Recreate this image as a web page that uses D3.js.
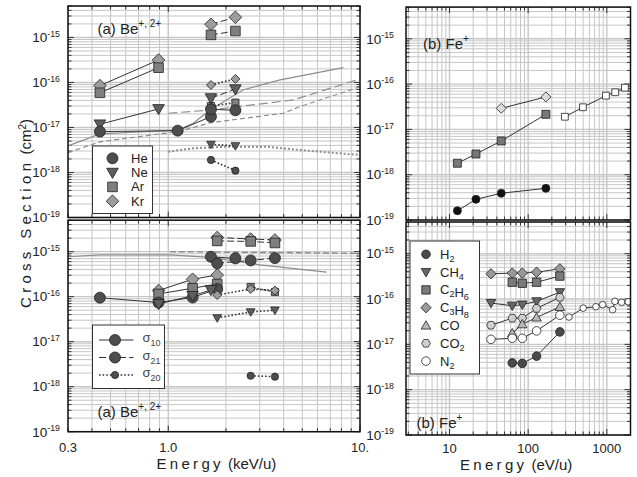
<!DOCTYPE html>
<html>
<head>
<meta charset="utf-8">
<script src="https://cdn.jsdelivr.net/npm/d3@7"></script>
<style>
  body { margin: 0; background: #fff; }
  svg { font-family: "Liberation Sans", Arial, Helvetica, sans-serif; }
</style>
</head>
<body>
<svg id="chart" width="637" height="477"></svg>
<script>
// ---------- data: [energy, cross section (cm^2)] ----------
// (a) Be+,2+ upper panel, energy in keV/u
const aHeSolid  = [[0.44, 8.1e-18], [1.12, 8.5e-18], [1.67, 1.74e-17]];
const aHeSolid2 = [[1.67, 2.54e-17], [2.24, 2.41e-17]];
const aNeSolid  = [[0.44, 1.18e-17], [0.89, 2.58e-17]];
const aArSolid  = [[0.44, 5.9e-17], [0.89, 2.13e-16]];
const aKrSolid  = [[0.44, 8.5e-17], [0.89, 3.16e-16]];
const aNeDash   = [[1.67, 4.5e-17], [2.24, 7.1e-17]];
const aArDash   = [[1.67, 1.14e-15], [2.24, 1.39e-15]];
const aKrDash   = [[1.67, 1.96e-15], [2.24, 2.81e-15]];
const aHeDot    = [[1.67, 1.9e-18], [2.24, 1.1e-18]];
const aNeDot    = [[1.67, 4.2e-18], [2.24, 3.9e-18]];
const aArDot    = [[1.67, 3.0e-17], [2.24, 3.56e-17]];
const aKrDot    = [[1.67, 8.8e-17], [2.24, 1.2e-16]];
// other works (curves, no markers), upper panel
const aRefSolid = [[0.3, 3.9e-18], [0.44, 7.2e-18], [1.12, 8.8e-18], [1.35, 1.24e-17], [1.65, 2.45e-17], [2.45, 6.8e-17], [3.83, 1.14e-16], [8.2, 2.13e-16]];
const aRefLong  = [[1.0, 2.07e-17], [1.67, 2.45e-17], [4.5, 4.1e-17], [10, 1.2e-16]];
const aRefShort = [[0.3, 2.75e-18], [0.44, 4.8e-18], [1.12, 8.1e-18], [1.67, 1.28e-17], [3.98, 2.07e-17], [4.84, 2.9e-17], [10, 8.0e-17]];
const aRefDot   = [[1.0, 2.9e-18], [1.35, 3.45e-18], [2.02, 3.74e-18], [3.26, 3.74e-18], [4.84, 3.16e-18], [10, 2.45e-18]];

// (a) lower panel: sigma10 (solid), sigma21 (dashed), sigma20 (dotted)
const bHe10  = [[0.44, 9.5e-17], [0.89, 7.4e-17], [1.34, 9.6e-17], [1.80, 1.48e-16]];
const bNe10  = [[0.89, 6.9e-17], [1.34, 1.05e-16], [1.67, 1.41e-16]];
const bAr10  = [[0.89, 1.15e-16], [1.34, 1.54e-16], [1.80, 1.91e-16]];
const bKr10  = [[0.89, 1.37e-16], [1.34, 2.44e-16], [1.80, 3.03e-16]];
const bHe10b = [[1.67, 7.7e-16], [2.24, 7.1e-16]];
const bHe21  = [[1.80, 5.5e-16], [2.69, 6.4e-16], [3.6, 7.2e-16]];
const bAr21  = [[1.80, 1.73e-15], [2.69, 1.69e-15], [3.6, 1.56e-15]];
const bKr21  = [[1.80, 2.07e-15], [2.69, 1.91e-15], [3.6, 1.82e-15]];
const bKr20  = [[1.80, 1.09e-16], [2.69, 1.48e-16], [3.6, 1.37e-16]];
const bAr20  = [[2.69, 1.64e-16], [3.6, 1.27e-16]];
const bNe20  = [[1.80, 3.37e-17], [2.69, 4.57e-17], [3.6, 5.0e-17]];
const bHe20  = [[2.69, 1.75e-18], [3.6, 1.67e-18]];
const bRefSolid = [[0.3, 7.7e-16], [0.44, 8.45e-16], [1.02, 8.45e-16], [1.65, 7.5e-16], [3.0, 5.1e-16], [6.7, 3.5e-16]];
const bRefDash  = [[1.02, 1.0e-15], [10, 9.2e-16]];

// (b) Fe+ upper panel, energy in eV/u
const cCircle  = [[12.6, 1.6e-19], [21.7, 2.86e-19], [45.5, 3.9e-19], [168, 5.0e-19]];
const cSquare  = [[12.6, 1.79e-18], [21.7, 2.86e-18], [45.5, 5.55e-18], [168, 2.15e-17]];
const cDiamond = [[45.5, 2.92e-17], [168, 5.2e-17]];
const cOpenSq  = [[293, 1.9e-17], [497, 3.08e-17], [974, 5.55e-17], [1279, 6.6e-17], [1698, 8.3e-17]];

// (b) Fe+ lower panel, molecular targets
const dH2   = [[62.8, 3.9e-18], [84.2, 3.8e-18], [128, 5.5e-18], [253, 1.88e-17]];
const dCH4  = [[33.7, 8.15e-17], [62.8, 7.1e-17], [84.2, 7.5e-17], [128, 8.9e-17], [253, 1.41e-16]];
const dC2H6 = [[62.8, 2.35e-16], [84.2, 2.23e-16], [128, 2.35e-16], [253, 3.2e-16]];
const dC3H8 = [[33.7, 3.6e-16], [62.8, 3.73e-16], [84.2, 3.73e-16], [128, 3.9e-16], [253, 4.64e-16]];
const dCO   = [[62.8, 1.76e-17], [84.2, 2.78e-17], [128, 3.92e-17], [253, 6.7e-17]];
const dCO2  = [[33.7, 2.64e-17], [62.8, 3.78e-17], [84.2, 3.78e-17], [128, 6.2e-17], [253, 1.09e-16]];
const dN2   = [[33.7, 1.29e-17], [62.8, 1.36e-17], [84.2, 1.36e-17], [128, 1.98e-17], [253, 4.4e-17]];
const dN2hi = [[330, 4.0e-17], [501, 6.3e-17], [727, 6.75e-17], [885, 7.5e-17], [1186, 5.8e-17], [1268, 8.9e-17], [1542, 8.45e-17], [1871, 8.7e-17]];

const gasNames = ["He", "Ne", "Ar", "Kr"];
const sigmaNames = ["10", "21", "20"];
const molNames = ["H2", "CH4", "C2H6", "C3H8", "CO", "CO2", "N2"];
const yLabelExps = [-15, -16, -17, -18, -19];

// ---------- drawing ----------
const svg = d3.select("#chart");
const HE = "#4d4d4d", NE = "#5e5e5e", AR = "#7f7f7f", KR = "#9c9c9c";
const DASH = "7,3", DOT = "1.6,2";

const shapes = {
  circle: r => `M${r},0A${r},${r} 0 1,1 ${-r},0A${r},${r} 0 1,1 ${r},0Z`,
  square: r => `M${-r},${-r}H${r}V${r}H${-r}Z`,
  diamond: r => `M0,${-r}L${r},0L0,${r}L${-r},0Z`,
  triDown: r => `M${-r},${-0.75 * r}L${r},${-0.75 * r}L0,${r}Z`,
  triUp: r => `M${-r},${0.75 * r}L${r},${0.75 * r}L0,${-r}Z`,
  hexagon: r => d3.range(6).map(i => {
    const a = Math.PI / 3 * i;
    return (i ? "L" : "M") + (r * Math.cos(a)).toFixed(2) + "," + (r * Math.sin(a)).toFixed(2);
  }).join("") + "Z"
};

const panels = [
  { id: "aTop", x: [68, 360], y: [6, 217.5], xd: [0.3, 10], lab: 60 },
  { id: "aBot", x: [68, 360], y: [220.2, 431.7], xd: [0.3, 10], lab: 60 },
  { id: "bTop", x: [406, 630.5], y: [7.1, 220], xd: [2.8, 2000], lab: 394 },
  { id: "bBot", x: [406, 630.5], y: [222, 435], xd: [2.8, 2000], lab: 394 }
];

const isMajor = v => Math.abs(Math.log10(v) - Math.round(Math.log10(v))) < 1e-6;

panels.forEach(p => {
  p.sx = d3.scaleLog().domain(p.xd).range(p.x);
  p.sy = d3.scaleLog().domain([1e-19, 5e-15]).range([p.y[1], p.y[0]]);
  const g = svg.append("g");
  p.g = g;

  // grid
  const xt = p.sx.ticks(), yt = p.sy.ticks();
  g.selectAll(".gx").data(xt).join("line")
    .attr("x1", d => p.sx(d)).attr("x2", d => p.sx(d))
    .attr("y1", p.y[0]).attr("y2", p.y[1])
    .attr("stroke", "#c6c6c6").attr("stroke-width", d => isMajor(d) ? 1.4 : 1);
  g.selectAll(".gy").data(yt).join("line")
    .attr("y1", d => p.sy(d)).attr("y2", d => p.sy(d))
    .attr("x1", p.x[0]).attr("x2", p.x[1])
    .attr("stroke", "#c6c6c6").attr("stroke-width", d => isMajor(d) ? 1.4 : 1);

  // inside ticks on all four sides
  const tk = d3.path();
  xt.forEach(d => {
    const x = p.sx(d), L = isMajor(d) ? 6 : 3.5;
    tk.moveTo(x, p.y[1]); tk.lineTo(x, p.y[1] - L);
    tk.moveTo(x, p.y[0]); tk.lineTo(x, p.y[0] + L);
  });
  yt.forEach(d => {
    const y = p.sy(d), L = isMajor(d) ? 6 : 3.5;
    tk.moveTo(p.x[0], y); tk.lineTo(p.x[0] + L, y);
    tk.moveTo(p.x[1], y); tk.lineTo(p.x[1] - L, y);
  });
  g.append("path").attr("d", tk.toString()).attr("stroke", "#222").attr("stroke-width", 0.9).attr("fill", "none");

  g.append("clipPath").attr("id", "clip-" + p.id)
    .append("rect").attr("x", p.x[0]).attr("y", p.y[0])
    .attr("width", p.x[1] - p.x[0]).attr("height", p.y[1] - p.y[0]);
  p.plot = g.append("g").attr("clip-path", `url(#clip-${p.id})`);

  // y tick labels
  yLabelExps.forEach(e => {
    const t = g.append("text").attr("x", p.lab).attr("y", p.sy(Math.pow(10, e)) + 4.8)
      .attr("text-anchor", "end").attr("font-size", 13.5).attr("fill", "#222");
    t.append("tspan").text("10");
    t.append("tspan").attr("dy", -5.5).attr("font-size", 8.8).text(String(e));
  });
});

const P = Object.fromEntries(panels.map(p => [p.id, p]));

// reference curves (grey, no markers)
const refCurves = [
  { p: "aTop", data: aRefSolid, dash: null, w: 1.2 },
  { p: "aTop", data: aRefLong, dash: "9,4", w: 1.2 },
  { p: "aTop", data: aRefShort, dash: "5,3", w: 1.2 },
  { p: "aTop", data: aRefDot, dash: "2,2", w: 2 },
  { p: "aBot", data: bRefSolid, dash: null, w: 1.2 },
  { p: "aBot", data: bRefDash, dash: "6,3", w: 1.4 }
];
refCurves.forEach(c => {
  const p = P[c.p];
  const line = d3.line().x(d => p.sx(d[0])).y(d => p.sy(d[1]));
  p.plot.append("path").attr("d", line(c.data)).attr("fill", "none")
    .attr("stroke", "#8c8c8c").attr("stroke-width", c.w)
    .attr("stroke-dasharray", c.dash);
});

// measured series
const series = [
  { p: "aTop", data: aKrSolid, dash: null, shape: "diamond", r: 6.3, fill: KR },
  { p: "aTop", data: aArSolid, dash: null, shape: "square", r: 4.8, fill: AR },
  { p: "aTop", data: aNeSolid, dash: null, shape: "triDown", r: 5.8, fill: NE },
  { p: "aTop", data: aHeSolid, dash: null, shape: "circle", r: 5.5, fill: HE },
  { p: "aTop", data: aKrDash, dash: DASH, shape: "diamond", r: 6.3, fill: KR },
  { p: "aTop", data: aArDash, dash: DASH, shape: "square", r: 4.8, fill: AR },
  { p: "aTop", data: aKrDot, dash: DOT, shape: "diamond", r: 4.5, fill: KR },
  { p: "aTop", data: aArDot, dash: DOT, shape: "square", r: 3.6, fill: AR },
  { p: "aTop", data: aNeDash, dash: DASH, shape: "triDown", r: 5.8, fill: NE },
  { p: "aTop", data: aHeSolid2, dash: null, shape: "circle", r: 5.5, fill: HE },
  { p: "aTop", data: aNeDot, dash: DOT, shape: "triDown", r: 4.3, fill: NE },
  { p: "aTop", data: aHeDot, dash: DOT, shape: "circle", r: 3.6, fill: HE },

  { p: "aBot", data: bKr21, dash: DASH, shape: "diamond", r: 6.3, fill: KR },
  { p: "aBot", data: bAr21, dash: DASH, shape: "square", r: 4.8, fill: AR },
  { p: "aBot", data: bHe10b, dash: null, shape: "circle", r: 5.5, fill: HE },
  { p: "aBot", data: bHe21, dash: DASH, shape: "circle", r: 5.5, fill: HE },
  { p: "aBot", data: bKr10, dash: null, shape: "diamond", r: 6.3, fill: KR },
  { p: "aBot", data: bAr10, dash: null, shape: "square", r: 4.8, fill: AR },
  { p: "aBot", data: bHe10, dash: null, shape: "circle", r: 5.5, fill: HE },
  { p: "aBot", data: bNe10, dash: null, shape: "triDown", r: 5.8, fill: NE },
  { p: "aBot", data: bAr20, dash: DOT, shape: "square", r: 3.6, fill: AR },
  { p: "aBot", data: bKr20, dash: DOT, shape: "diamond", r: 4.5, fill: KR },
  { p: "aBot", data: bNe20, dash: DOT, shape: "triDown", r: 4.3, fill: NE },
  { p: "aBot", data: bHe20, dash: DOT, shape: "circle", r: 3.6, fill: HE },

  { p: "bTop", data: cCircle, dash: null, shape: "circle", r: 4, fill: "#111" },
  { p: "bTop", data: cSquare, dash: null, shape: "square", r: 4, fill: "#777" },
  { p: "bTop", data: cDiamond, dash: null, shape: "diamond", r: 5, fill: "#dcdcdc" },
  { p: "bTop", data: cOpenSq, dash: null, shape: "square", r: 3.4, fill: "#fff" },

  { p: "bBot", data: dC3H8, dash: null, shape: "diamond", r: 5.2, fill: "#999" },
  { p: "bBot", data: dC2H6, dash: null, shape: "square", r: 4.2, fill: "#7a7a7a" },
  { p: "bBot", data: dCH4, dash: null, shape: "triDown", r: 4.8, fill: "#666" },
  { p: "bBot", data: dCO2, dash: null, shape: "hexagon", r: 4.4, fill: "#cfcfcf" },
  { p: "bBot", data: dCO, dash: null, shape: "triUp", r: 4.8, fill: "#b8b8b8" },
  { p: "bBot", data: dN2, dash: null, shape: "circle", r: 4.3, fill: "#fff" },
  { p: "bBot", data: dN2hi, dash: null, shape: "circle", r: 3.3, fill: "#fff" },
  { p: "bBot", data: dH2, dash: null, shape: "circle", r: 4.3, fill: "#4a4a4a" }
];

series.forEach(s => {
  const p = P[s.p];
  const line = d3.line().x(d => p.sx(d[0])).y(d => p.sy(d[1]));
  p.plot.append("path").attr("d", line(s.data)).attr("fill", "none")
    .attr("stroke", "#333").attr("stroke-width", s.dash === DOT ? 1.6 : 1)
    .attr("stroke-dasharray", s.dash);
});
series.forEach(s => {
  const p = P[s.p];
  p.plot.selectAll(null).data(s.data).join("path")
    .attr("transform", d => `translate(${p.sx(d[0])},${p.sy(d[1])})`)
    .attr("d", shapes[s.shape](s.r))
    .attr("fill", s.fill).attr("stroke", "#222").attr("stroke-width", 0.8);
});

// frames
panels.forEach(p => {
  p.g.append("rect").attr("x", p.x[0]).attr("y", p.y[0])
    .attr("width", p.x[1] - p.x[0]).attr("height", p.y[1] - p.y[0])
    .attr("fill", "none").attr("stroke", "#111").attr("stroke-width", 1.5);
});

// x tick labels
const xLabA = [[0.3, "0.3"], [1, "1.0"], [10, "10."]];
const xLabB = [[10, "10"], [100, "100"], [1000, "1000"]];
xLabA.forEach(([v, t]) => svg.append("text").attr("x", P.aBot.sx(v)).attr("y", 452)
  .attr("text-anchor", "middle").attr("font-size", 13).attr("fill", "#222").text(t));
xLabB.forEach(([v, t]) => svg.append("text").attr("x", P.bBot.sx(v)).attr("y", 453)
  .attr("text-anchor", "middle").attr("font-size", 13).attr("fill", "#222").text(t));

// axis titles
function spacedTitle(sel, word, rest, spacing) {
  sel.append("tspan").attr("letter-spacing", spacing).text(word);
  sel.append("tspan").text(" " + rest);
}
spacedTitle(svg.append("text").attr("x", 156.5).attr("y", 469).attr("font-size", 15).attr("fill", "#222"),
  "Energy", "(keV/u)", 3.3);
spacedTitle(svg.append("text").attr("x", 460).attr("y", 470).attr("font-size", 15).attr("fill", "#222"),
  "Energy", "(eV/u)", 3.3);
const yt = svg.append("text").attr("transform", "translate(31,308) rotate(-90)")
  .attr("font-size", 15).attr("fill", "#222");
yt.append("tspan").attr("letter-spacing", 4.3).text("Cross Section");
yt.append("tspan").text(" (cm");
yt.append("tspan").attr("dy", -5.5).attr("font-size", 10).text("2");
yt.append("tspan").attr("dy", 5.5).text(")");

// panel labels
function panelLabel(x, y, main, sup) {
  const t = svg.append("text").attr("x", x).attr("y", y).attr("font-size", 15).attr("fill", "#222");
  t.append("tspan").text(main);
  t.append("tspan").attr("dy", -7).attr("font-size", 10).text(sup);
}
panelLabel(97.5, 34, "(a) Be", "+, 2+");
panelLabel(97.5, 417, "(a) Be", "+, 2+");
panelLabel(423, 48.5, "(b) Fe", "+");
panelLabel(416.5, 428, "(b) Fe", "+");

// text with numeric subscripts (chemical formulas)
function formula(t, s, size) {
  s.split(/(\d+)/).filter(x => x).forEach(part => {
    if (/^\d+$/.test(part)) {
      t.append("tspan").attr("dy", 3).attr("font-size", size * 0.7).text(part);
      t.append("tspan").attr("dy", -3).text("");
    } else {
      t.append("tspan").text(part);
    }
  });
}

// legend: gases
const lg1 = svg.append("g");
lg1.append("rect").attr("x", 92.5).attr("y", 146).attr("width", 60).attr("height", 67.5)
  .attr("fill", "#fff").attr("stroke", "#333").attr("stroke-width", 1);
const gasStyle = [["circle", 5.5, HE], ["triDown", 5.8, NE], ["square", 4.8, AR], ["diamond", 6.3, KR]];
gasNames.forEach((n, i) => {
  const y = 158.3 + i * 14.3;
  lg1.append("path").attr("transform", `translate(112.5,${y})`).attr("d", shapes[gasStyle[i][0]](gasStyle[i][1]))
    .attr("fill", gasStyle[i][2]).attr("stroke", "#222").attr("stroke-width", 0.8);
  lg1.append("text").attr("x", 131).attr("y", y + 4.5).attr("font-size", 13).attr("fill", "#222").text(n);
});

// legend: sigma line styles
const lg2 = svg.append("g");
lg2.append("rect").attr("x", 92.5).attr("y", 325).attr("width", 72).attr("height", 63.5)
  .attr("fill", "#fff").attr("stroke", "#333").attr("stroke-width", 1);
const sigStyle = [[null, 1, 5.5], [DASH, 1, 5.5], [DOT, 1.6, 3.6]];
sigmaNames.forEach((n, i) => {
  const y = 340 + i * 17.5;
  lg2.append("line").attr("x1", 99).attr("x2", 133.5).attr("y1", y).attr("y2", y)
    .attr("stroke", "#333").attr("stroke-width", sigStyle[i][1]).attr("stroke-dasharray", sigStyle[i][0]);
  lg2.append("path").attr("transform", `translate(115,${y})`).attr("d", shapes.circle(sigStyle[i][2]))
    .attr("fill", HE).attr("stroke", "#222").attr("stroke-width", 0.8);
  const t = lg2.append("text").attr("x", 142.5).attr("y", y + 2).attr("font-size", 13).attr("fill", "#444");
  t.append("tspan").text("σ");
  t.append("tspan").attr("dy", 4).attr("font-size", 9).text(n);
});

// legend: molecules
const lg3 = svg.append("g");
lg3.append("rect").attr("x", 410).attr("y", 241).attr("width", 69.5).attr("height", 133)
  .attr("fill", "#fff").attr("stroke", "#333").attr("stroke-width", 1);
const molStyle = [["circle", 4.3, "#4a4a4a"], ["triDown", 4.8, "#666"], ["square", 4.2, "#7a7a7a"],
  ["diamond", 5.2, "#999"], ["triUp", 4.8, "#b8b8b8"], ["hexagon", 4.4, "#cfcfcf"], ["circle", 4.3, "#fff"]];
molNames.forEach((n, i) => {
  const y = 254.3 + i * 17.8;
  lg3.append("path").attr("transform", `translate(426,${y})`).attr("d", shapes[molStyle[i][0]](molStyle[i][1]))
    .attr("fill", molStyle[i][2]).attr("stroke", "#222").attr("stroke-width", 0.8);
  const t = lg3.append("text").attr("x", 440).attr("y", y + 4.5).attr("font-size", 13).attr("fill", "#222");
  formula(t, n, 13);
});
</script>
</body>
</html>
